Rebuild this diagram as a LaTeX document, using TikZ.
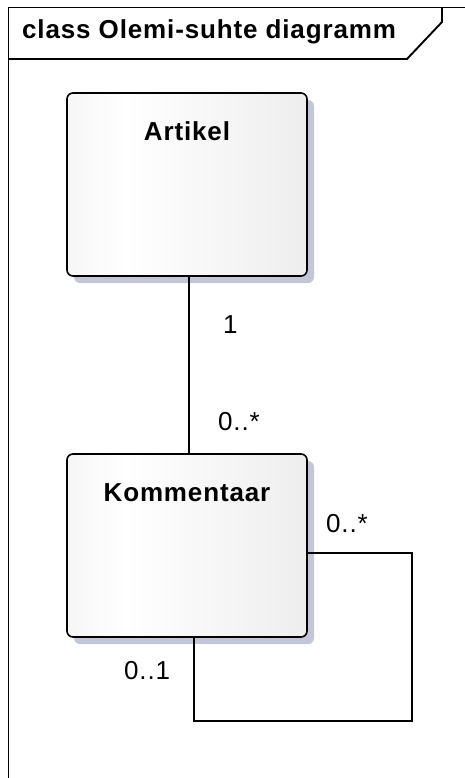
\documentclass[tikz,border=0pt]{standalone}
\usepackage{fontspec}
\setmainfont{Liberation Sans}
\newfontfamily\umlfont[LetterSpace=3.3]{Liberation Sans}
\usetikzlibrary{shadows}
\definecolor{shadowc}{HTML}{C2C6D6}
\definecolor{fillL}{HTML}{E3E3E3}
\definecolor{fillR}{HTML}{E2E2E2}
\pgfdeclarehorizontalshading{classfill}{100bp}{color(0bp)=(fillL); color(37bp)=(white); color(100bp)=(fillR)}
\begin{document}
\begin{tikzpicture}[x=1pt,y=-1pt,
  frameline/.style={line width=1.9pt, line join=miter},
  classbox/.style={draw=black, line width=1.6pt, rounded corners=6pt,
    minimum width=240pt, minimum height=183pt, inner sep=0pt,
    shade, shading=classfill,
    drop shadow={shadow xshift=7pt, shadow yshift=-7pt, fill=shadowc, opacity=1}},
  assoc/.style={draw=black, line width=1.6pt},
  txt/.style={inner sep=0pt, font=\umlfont\fontsize{26}{30}\selectfont},
  btxt/.style={txt, font=\umlfont\bfseries\fontsize{26}{30}\selectfont}]
  \useasboundingbox (0,0) rectangle (465,778);
  % diagram frame and its name tab
  \draw[frameline] (8.5,790) -- (8.5,7.5) -- (480,7.5);
  \draw[frameline] (8.5,59) -- (407,59) -- (442,22) -- (442,7.5);
  \node[btxt, anchor=base west] (title) at (22,39) {class Olemi-suhte diagramm};

  % classes
  \node[classbox] (artikel) at (187,184.5) {};
  \node[classbox] (kommentaar) at (187,545.5) {};
  \node[btxt, anchor=base] (artikelname) at ([yshift=-48.5pt]artikel.north) {Artikel};
  \node[btxt, anchor=base] (kommentaarname) at ([yshift=-48pt]kommentaar.north) {Kommentaar};

  % association Artikel -- Kommentaar
  \draw[assoc] ([xshift=2pt]artikel.south) -- ([xshift=2pt]kommentaar.north);
  \node[txt, anchor=base west] (m1) at (223,333) {1};
  \node[txt, anchor=base west] (m2) at (218,430) {0..*};

  % reflexive association on Kommentaar
  \coordinate (loopcorner) at (412,721);
  \draw[assoc] ([yshift=-7.5pt]kommentaar.east) -| (loopcorner) -| ([xshift=7pt]kommentaar.south);
  \node[txt, anchor=base west] (m3) at (326,532) {0..*};
  \node[txt, anchor=base west] (m4) at (124,679) {0..1};
\end{tikzpicture}
\end{document}
